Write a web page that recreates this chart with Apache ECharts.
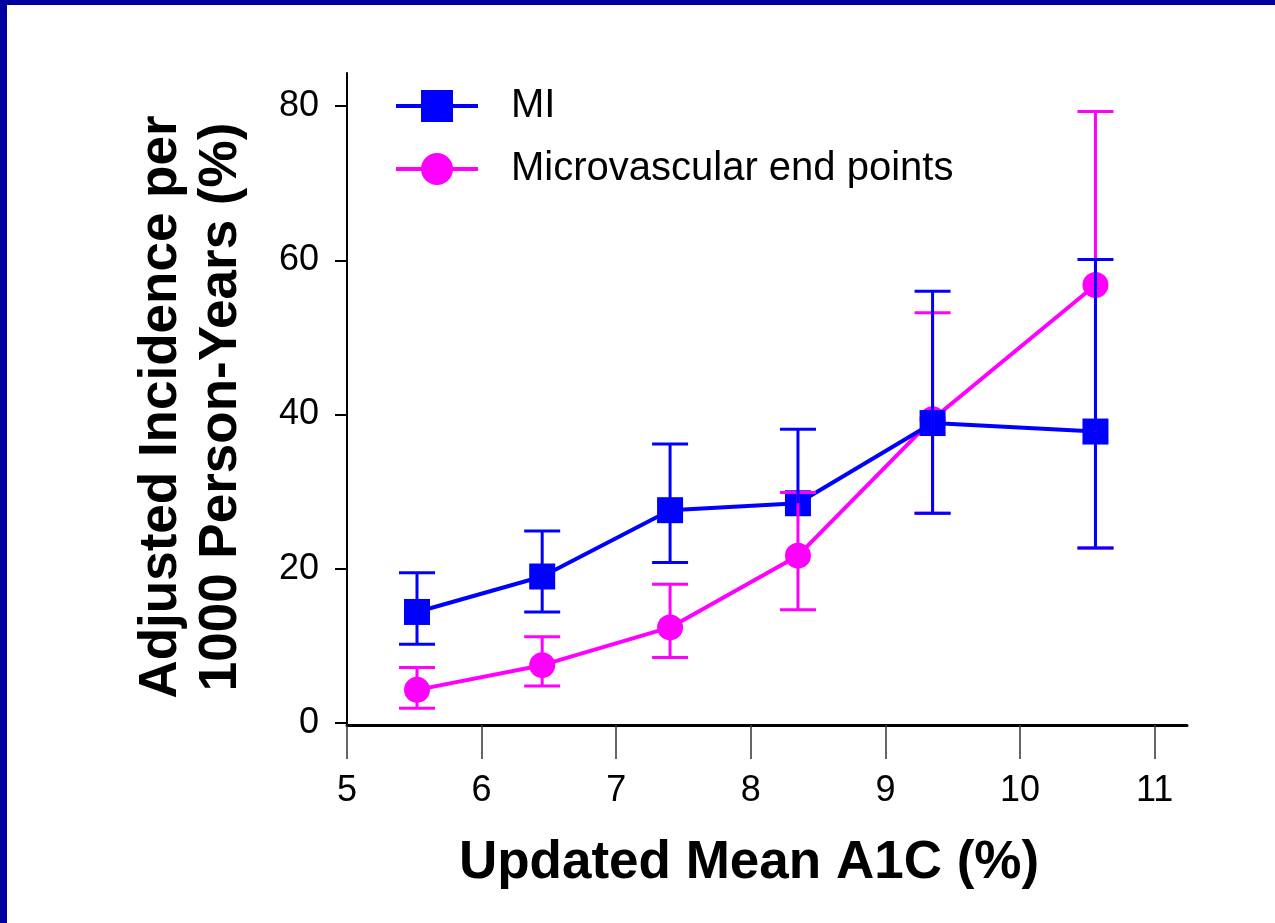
<!DOCTYPE html>
<html>
<head>
<meta charset="utf-8">
<script src="https://cdn.jsdelivr.net/npm/echarts@6/dist/echarts.min.js"></script>
<style>
    body { margin: 0; background: #0000a0; width: 1275px; height: 923px; overflow: hidden; position: relative; }
    #chart { position: absolute; left: 7px; top: 5px; width: 1268px; height: 918px; background: #fff; }
</style>
</head>
<body>
<div id="chart"></div>
<script>
// updated mean A1C (%) for each group
const a1c = [5.52, 6.45, 7.40, 8.35, 9.35, 10.56];

// MI: point, upper and lower limits (lower at 8.4 is not drawn)
const miValue = [14.4, 19.0, 27.6, 28.5, 38.9, 37.8];
const miUpper = [19.5, 24.9, 36.2, 38.1, 56.0, 60.1];
const miLower = [10.2, 14.4, 20.8, null, 27.2, 22.7];

// Microvascular end points
const microValue = [4.3, 7.5, 12.4, 21.7, 39.4, 56.8];
const microUpper = [7.2, 11.2, 18.0, 29.9, 53.2, 79.3];
const microLower = [1.9, 4.8, 8.5, 14.7, 27.2, 22.7];

const xTicks = [5, 6, 7, 8, 9, 10, 11];
const yTicks = [0, 20, 40, 60, 80];

const BLUE = '#0000ff';
const PINK = '#ff00ff';
const FONT = '"Liberation Sans", Arial, sans-serif';

function points(values) {
    return a1c.map((x, i) => [x, values[i]]);
}

function bars(values, upper, lower) {
    return a1c.map((x, i) => [x, values[i], upper[i], lower[i] == null ? '-' : lower[i]]);
}

function errorBar(color) {
    return function (params, api) {
        const x = api.value(0);
        const mid = api.coord([x, api.value(1)]);
        const children = [];
        const half = 18;
        const style = { stroke: color, lineWidth: 3 };
        [api.value(2), api.value(3)].forEach(v => {
            if (v == null || isNaN(v)) return;
            const end = api.coord([x, v]);
            children.push({ type: 'line', shape: { x1: mid[0], y1: mid[1], x2: end[0], y2: end[1] }, style: style });
            children.push({ type: 'line', shape: { x1: end[0] - half, y1: end[1], x2: end[0] + half, y2: end[1] }, style: style });
        });
        return { type: 'group', children: children };
    };
}

const myChart = echarts.init(document.getElementById('chart'));
myChart.setOption({
    animation: false,
    textStyle: { fontFamily: FONT, color: '#000' },
    grid: { left: 340, top: 68, right: 88, bottom: 198 },
    legend: {
        data: ['MI', 'Microvascular end points'],
        orient: 'vertical',
        left: 382,
        top: 76,
        itemWidth: 82,
        itemHeight: 40,
        itemGap: 23,
        lineStyle: { width: 4 },
        textStyle: { fontFamily: FONT, fontSize: 40, color: '#000', padding: [0, 0, 0, 28] }
    },
    xAxis: {
        type: 'value',
        min: 5,
        max: 11.24,
        name: 'Updated Mean A1C (%)',
        nameLocation: 'middle',
        nameGap: 112,
        nameTextStyle: { fontFamily: FONT, fontSize: 53, fontWeight: 'bold', color: '#000', padding: [0, 36, 0, 0] },
        axisLine: { onZero: false, lineStyle: { color: '#000', width: 3 } },
        axisTick: { customValues: xTicks, length: 34, lineStyle: { color: '#333', width: 1.5 } },
        axisLabel: { customValues: xTicks, margin: 48, fontSize: 36, color: '#000', fontFamily: FONT },
        splitLine: { show: false }
    },
    yAxis: {
        type: 'value',
        min: -0.26,
        max: 84.3,
        name: 'Adjusted Incidence per\n1000 Person-Years (%)',
        nameLocation: 'middle',
        nameGap: 96,
        nameRotate: 90,
        nameTextStyle: { fontFamily: FONT, fontSize: 53, fontWeight: 'bold', color: '#000', lineHeight: 60, padding: [0, 16, 0, 0] },
        axisLine: { onZero: false, lineStyle: { color: '#000', width: 2 } },
        axisTick: { customValues: yTicks, length: 12, lineStyle: { color: '#000', width: 2 } },
        axisLabel: { customValues: yTicks, margin: 28, fontSize: 36, color: '#000', fontFamily: FONT },
        splitLine: { show: false }
    },
    series: [
        {
            name: 'Microvascular end points',
            type: 'line',
            data: points(microValue),
            symbol: 'circle',
            symbolSize: 26,
            color: PINK,
            lineStyle: { color: PINK, width: 4 },
            itemStyle: { color: PINK },
            z: 2
        },
        {
            name: 'MI',
            type: 'line',
            data: points(miValue),
            symbol: 'rect',
            symbolSize: 26,
            color: BLUE,
            lineStyle: { color: BLUE, width: 4 },
            itemStyle: { color: BLUE },
            z: 3
        },
        {
            type: 'custom',
            data: bars(microValue, microUpper, microLower),
            renderItem: errorBar(PINK),
            encode: { x: 0, y: [1, 2] },
            z: 4
        },
        {
            type: 'custom',
            data: bars(miValue, miUpper, miLower),
            renderItem: errorBar(BLUE),
            encode: { x: 0, y: [1, 2] },
            z: 5
        }
    ]
});
</script>
</body>
</html>
